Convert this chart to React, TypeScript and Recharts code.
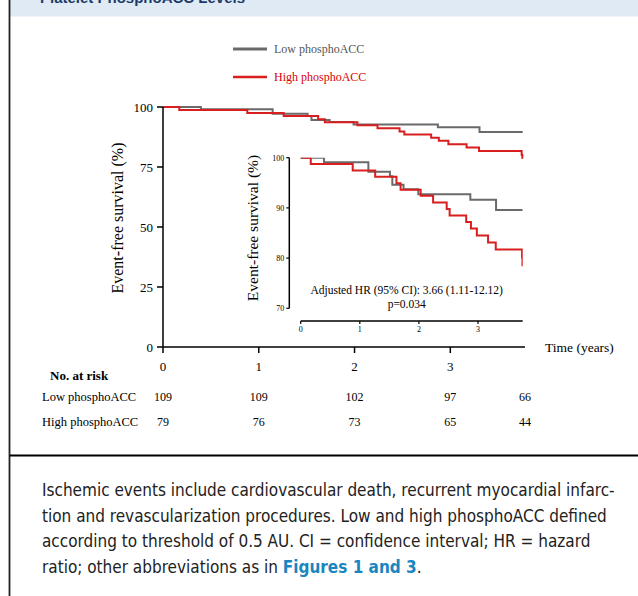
import React from 'react';
import { LineChart, Line, XAxis, YAxis, ReferenceLine } from 'recharts';

// ---- data ----
const lowTime = [0, 0.395, 1.145, 1.51, 1.55, 1.74, 1.99, 2.87, 3.305, 3.756];
const lowSurvival = [100, 99.08, 97.2, 96.3, 94.6, 93.7, 92.7, 91.6, 89.6, 89.6];
const highTime = [0, 0.17, 0.88, 1.26, 1.62, 1.69, 2.03, 2.24, 2.47, 2.52, 2.8, 2.88, 2.98, 3.17, 3.3, 3.745, 3.752];
const highSurvival = [100, 98.73, 97.47, 96.2, 94.9, 93.6, 92.4, 91.1, 89.8, 88.5, 87.2, 85.9, 84.5, 83.1, 81.7, 80.1, 78.4];

const riskTimes = [0, 1, 2, 3, 3.78];
const lowRisk = [109, 109, 102, 97, 66];
const highRisk = [79, 76, 73, 65, 44];
const mainXTicks = [0, 1, 2, 3];
const mainYTicks = [0, 25, 50, 75, 100];
const insetXTicks = [0, 1, 2, 3];
const insetYTicks = [70, 80, 90, 100];

const seriesNames = ['Low phosphoACC', 'High phosphoACC'];
const captionLines = [
  'Ischemic events include cardiovascular death, recurrent myocardial infarc-',
  'tion and revascularization procedures. Low and high phosphoACC defined',
  'according to threshold of 0.5 AU. CI = confidence interval; HR = hazard',
];

const lowData = lowTime.map((t, i) => ({ t, s: lowSurvival[i] }));
const highData = highTime.map((t, i) => ({ t, s: highSurvival[i] }));

const GREY = '#6a6a6a';
const RED = '#d81e1e';
const SERIF = '"Liberation Serif", "Times New Roman", serif';
const CAPFONT = '"Liberation Sans Narrow", "DejaVu Sans Condensed", "Liberation Sans", sans-serif';

const MainTick = (props: any) => {
  const { x, y, payload } = props;
  const v = payload.value;
  const i = riskTimes.indexOf(v);
  const showAxis = mainXTicks.indexOf(v) >= 0;
  return (
    <g>
      {showAxis && <line x1={x} x2={x} y1={y} y2={y + 6} stroke="#000" strokeWidth={1.5} />}
      {showAxis && (
        <text x={x} y={y + 24} textAnchor="middle" fontSize={13} fontFamily={SERIF} fill="#000">{v}</text>
      )}
      <text x={x} y={y + 54} textAnchor="middle" fontSize={12} fontFamily={SERIF} fill="#000">{lowRisk[i]}</text>
      <text x={x} y={y + 79} textAnchor="middle" fontSize={12} fontFamily={SERIF} fill="#000">{highRisk[i]}</text>
    </g>
  );
};

export default function App() {
  return (
    <div style={{ position: 'absolute', left: 0, top: 0, width: 638, height: 596, overflow: 'hidden', background: '#fff' }}>
      {/* Main chart */}
      <div style={{ position: 'absolute', left: 0, top: 0 }}>
        <LineChart width={638} height={596} margin={{ top: 107, right: 113, bottom: 219, left: 103 }}>
          <XAxis
            type="number"
            dataKey="t"
            domain={[0, 3.78]}
            ticks={riskTimes}
            interval={0}
            tickLine={false}
            tickSize={0}
            tickMargin={0}
            height={30}
            axisLine={{ stroke: '#000', strokeWidth: 1.5 }}
            tick={<MainTick />}
            allowDataOverflow
          />
          <YAxis
            type="number"
            domain={[0, 100]}
            ticks={mainYTicks}
            interval={0}
            width={60}
            tickSize={6}
            tickMargin={4}
            tick={{ fill: '#000', fontSize: 13, fontFamily: SERIF }}
            axisLine={{ stroke: '#000', strokeWidth: 1.5 }}
            tickLine={{ stroke: '#000', strokeWidth: 1.5 }}
          />
          <Line data={lowData} dataKey="s" type="stepAfter" stroke={GREY} strokeWidth={2} dot={false} isAnimationActive={false} />
          <Line data={highData} dataKey="s" type="stepAfter" stroke={RED} strokeWidth={2} dot={false} isAnimationActive={false} />
        </LineChart>
      </div>

      {/* Inset chart */}
      <div style={{ position: 'absolute', left: 0, top: 0 }}>
        <LineChart width={638} height={596} margin={{ top: 157.7, right: 115.3, bottom: 255, left: 249.3 }}>
          <XAxis
            type="number"
            dataKey="t"
            domain={[-0.193, 3.756]}
            ticks={insetXTicks}
            interval={0}
            height={20}
            axisLine={false}
            tickSize={3}
            tickMargin={2}
            tick={{ fill: '#000', fontSize: 8, fontFamily: SERIF }}
            tickLine={{ stroke: '#000', strokeWidth: 1.2 }}
            allowDataOverflow
          />
          <YAxis
            type="number"
            domain={[67.47, 100]}
            ticks={insetYTicks}
            interval={0}
            width={40}
            tickSize={3}
            tickMargin={2}
            tick={{ fill: '#000', fontSize: 8, fontFamily: SERIF }}
            tickLine={{ stroke: '#000', strokeWidth: 1.2 }}
            axisLine={false}
            allowDataOverflow
          />
          <ReferenceLine segment={[{ x: 0, y: 67.47 }, { x: 3.756, y: 67.47 }]} stroke="#000" strokeWidth={1.5} ifOverflow="visible" />
          <ReferenceLine segment={[{ x: -0.193, y: 70 }, { x: -0.193, y: 100 }]} stroke="#000" strokeWidth={1.5} ifOverflow="visible" />
          <Line data={lowData} dataKey="s" type="stepAfter" stroke={GREY} strokeWidth={2} dot={false} isAnimationActive={false} />
          <Line data={highData} dataKey="s" type="stepAfter" stroke={RED} strokeWidth={2} dot={false} isAnimationActive={false} />
        </LineChart>
      </div>

      {/* Static overlay */}
      <svg width={638} height={596} style={{ position: 'absolute', left: 0, top: 0, pointerEvents: 'none' }}>
        <rect x={10} y={0} width={628} height={16.5} fill="#dfeaf5" />
        <text x={40} y={3} fontSize={15} fontWeight="bold" fontFamily='"Liberation Sans", sans-serif' fill="#1b3a6a">Platelet PhosphoACC Levels</text>
        <line x1={9.5} x2={9.5} y1={0} y2={596} stroke="#222" strokeWidth={1.8} />
        <line x1={10} x2={638} y1={455.5} y2={455.5} stroke="#000" strokeWidth={2.2} />

        {/* legend */}
        <line x1={233} x2={267} y1={49} y2={49} stroke={GREY} strokeWidth={3} />
        <text x={274} y={53} fontSize={12} fontFamily={SERIF} fill="#555">{seriesNames[0]}</text>
        <line x1={233} x2={267} y1={77} y2={77} stroke={RED} strokeWidth={2.5} />
        <text x={274} y={81} fontSize={12} fontFamily={SERIF} fill="#d00">{seriesNames[1]}</text>

        {/* axis titles */}
        <text transform="translate(122.5,218) rotate(-90)" textAnchor="middle" fontSize={16} fontFamily={SERIF} fill="#000">Event-free survival (%)</text>
        <text transform="translate(257.5,228) rotate(-90)" textAnchor="middle" fontSize={15.5} fontFamily={SERIF} fill="#000">Event-free survival (%)</text>
        <text x={545} y={352} fontSize={13.5} fontFamily={SERIF} fill="#000">Time (years)</text>

        {/* annotation */}
        <text x={406.7} y={294} textAnchor="middle" fontSize={11.5} fontFamily={SERIF} fill="#000">Adjusted HR (95% CI): 3.66 (1.11-12.12)</text>
        <text x={406.7} y={308} textAnchor="middle" fontSize={11.5} fontFamily={SERIF} fill="#000">p=0.034</text>

        {/* risk table labels */}
        <text x={50} y={380} fontSize={13} fontWeight="bold" fontFamily={SERIF} fill="#000">No. at risk</text>
        <text x={42} y={401} fontSize={12.5} fontFamily={SERIF} fill="#000">{seriesNames[0]}</text>
        <text x={42} y={426} fontSize={12.5} fontFamily={SERIF} fill="#000">{seriesNames[1]}</text>

        {/* caption */}
        {captionLines.map((l, i) => (
          <text key={i} x={42} y={496 + i * 25.5} fontSize={17} fontFamily={CAPFONT} fill="#222">{l}</text>
        ))}
        <text x={42} y={496 + 3 * 25.5} fontSize={17} fontFamily={CAPFONT} fill="#222">
          ratio; other abbreviations as in <tspan fill="#1a86c0" fontWeight="bold">Figures 1 and 3</tspan>.
        </text>
      </svg>
    </div>
  );
}
